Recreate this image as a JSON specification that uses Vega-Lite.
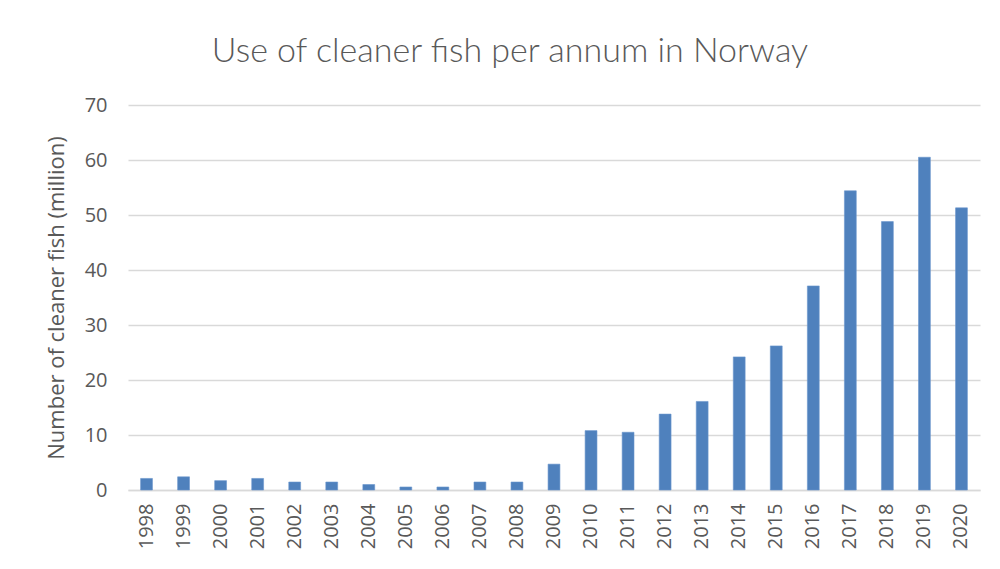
{
  "$schema": "https://vega.github.io/schema/vega-lite/v6.json",
  "autosize": "none",
  "width": 852,
  "height": 385,
  "padding": {"left": 128, "top": 105, "right": 20, "bottom": 79},
  "background": "white",
  "title": {
    "text": "Use of cleaner fish per annum in Norway",
    "font": "Lato",
    "fontSize": 34,
    "fontWeight": 300,
    "color": "#595959",
    "anchor": "middle",
    "dx": -44,
    "offset": 26
  },
  "data": {
    "values": [
      {"year": "1998", "value": 2.1},
      {"year": "1999", "value": 2.4},
      {"year": "2000", "value": 1.7},
      {"year": "2001", "value": 2.1},
      {"year": "2002", "value": 1.45},
      {"year": "2003", "value": 1.45},
      {"year": "2004", "value": 1.0},
      {"year": "2005", "value": 0.55},
      {"year": "2006", "value": 0.55},
      {"year": "2007", "value": 1.45},
      {"year": "2008", "value": 1.45},
      {"year": "2009", "value": 4.7},
      {"year": "2010", "value": 10.8},
      {"year": "2011", "value": 10.5},
      {"year": "2012", "value": 13.8},
      {"year": "2013", "value": 16.1},
      {"year": "2014", "value": 24.2},
      {"year": "2015", "value": 26.2},
      {"year": "2016", "value": 37.1},
      {"year": "2017", "value": 54.4},
      {"year": "2018", "value": 48.8},
      {"year": "2019", "value": 60.5},
      {"year": "2020", "value": 51.3}
    ]
  },
  "mark": {"type": "bar", "color": "#4f81bd", "stroke": "#6a96cc", "strokeWidth": 0.6},
  "encoding": {
    "x": {
      "field": "year",
      "type": "nominal",
      "scale": {"paddingInner": 0.68, "paddingOuter": 0.34},
      "axis": {
        "title": null,
        "labelAngle": -90,
        "labelAlign": "right",
        "labelBaseline": "middle",
        "labelFont": "Open Sans",
        "labelFontSize": 20,
        "labelColor": "#595959",
        "labelPadding": 13,
        "ticks": false,
        "domainColor": "#d9d9d9",
        "domainWidth": 1.5
      }
    },
    "y": {
      "field": "value",
      "type": "quantitative",
      "scale": {"domain": [0, 70]},
      "axis": {
        "title": "Number of cleaner fish (million)",
        "titleFont": "Open Sans",
        "titleFontSize": 22,
        "titleFontWeight": "normal",
        "titleColor": "#595959",
        "titlePadding": 16,
        "values": [0, 10, 20, 30, 40, 50, 60, 70],
        "labelFont": "Open Sans",
        "labelFontSize": 20,
        "labelColor": "#595959",
        "labelPadding": 21,
        "ticks": false,
        "domain": false,
        "gridColor": "#d9d9d9",
        "gridWidth": 1.5
      }
    }
  },
  "config": {"view": {"stroke": null}}
}
